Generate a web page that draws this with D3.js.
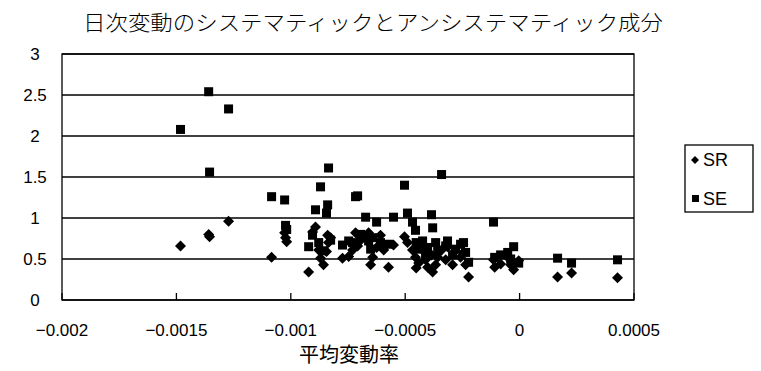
<!DOCTYPE html>
<html>
<head>
<meta charset="utf-8">
<script src="https://cdn.jsdelivr.net/npm/d3@7"></script>
<style>
  body { margin: 0; background: #fff; }
  text { fill: #000; }
</style>
</head>
<body>
<div id="chart"></div>
<script>
var title = "日次変動のシステマティックとアンシステマティック成分";
var xTitle = "平均変動率";
var seriesNames = ["SR", "SE"];

var xTicks = [-0.002, -0.0015, -0.001, -0.0005, 0, 0.0005];
var xTickLabels = ["−0.002", "−0.0015", "−0.001", "−0.0005", "0", "0.0005"];
var yTicks = [0, 0.5, 1, 1.5, 2, 2.5, 3];
var yTickLabels = ["0", "0.5", "1", "1.5", "2", "2.5", "3"];

// average change rate (x) for each observation
var xValues = [
    -0.001482, -0.001359, -0.001355, -0.001272, -0.001084, -0.001027, -0.001023, -0.001018,
    -0.000922, -0.000905, -0.000892, -0.000878, -0.000870, -0.000857, -0.000844, -0.000839,
    -0.000835, -0.000826, -0.000774, -0.000747, -0.000730, -0.000717, -0.000708, -0.000695,
    -0.000673, -0.000660, -0.000651, -0.000642, -0.000625, -0.000608, -0.000594, -0.000573,
    -0.000551, -0.000503, -0.000490, -0.000468, -0.000455, -0.000452, -0.000441, -0.000424,
    -0.000411, -0.000402, -0.000385, -0.000380, -0.000367, -0.000358, -0.000341, -0.000323,
    -0.000315, -0.000293, -0.000280, -0.000258, -0.000245, -0.000236, -0.000223, -0.000114,
    -0.000109, -0.000083, -0.000052, -0.000039, -0.000026, -0.000004, 0.000166, 0.000227,
    0.000428
];
var srValues = [
    0.66, 0.80, 0.77, 0.96, 0.52, 0.82, 0.76, 0.71,
    0.34, 0.83, 0.89, 0.61, 0.51, 0.43, 0.59, 0.79,
    0.70, 0.76, 0.51, 0.53, 0.61, 0.82, 0.66, 0.73,
    0.76, 0.82, 0.43, 0.52, 0.64, 0.79, 0.61, 0.40,
    0.67, 0.77, 0.70, 0.61, 0.52, 0.39, 0.45, 0.61,
    0.49, 0.40, 0.55, 0.34, 0.43, 0.52, 0.61, 0.49,
    0.65, 0.43, 0.60, 0.52, 0.58, 0.43, 0.28, 0.49,
    0.40, 0.44, 0.52, 0.43, 0.37, 0.48, 0.28, 0.33,
    0.27
];
var seValues = [
    2.08, 2.54, 1.56, 2.33, 1.26, 1.22, 0.91, 0.86,
    0.65, 0.79, 1.10, 0.70, 1.38, 0.60, 1.06, 1.16,
    1.61, 0.73, 0.67, 0.72, 0.70, 1.26, 1.27, 0.80,
    1.01, 0.72, 0.62, 0.76, 0.95, 0.70, 0.66, 0.68,
    1.01, 1.40, 1.06, 0.95, 0.85, 0.70, 0.62, 0.72,
    0.55, 0.64, 1.04, 0.88, 0.70, 0.60, 1.53, 0.66,
    0.72, 0.55, 0.62, 0.68, 0.70, 0.58, 0.46, 0.95,
    0.52, 0.55, 0.58, 0.50, 0.65, 0.45, 0.51, 0.45,
    0.49
];

var svg = d3.select("#chart")
    .append("svg")
    .attr("width", 761)
    .attr("height", 371);

var x = d3.scaleLinear().domain([-0.002, 0.0005]).range([62, 634]);
var y = d3.scaleLinear().domain([0, 3]).range([300, 54]);

var cjk = "'Noto Sans CJK JP', sans-serif";
var latin = "'Liberation Sans', Arial, sans-serif";

// title
svg.append("text")
    .attr("x", 373)
    .attr("y", 30)
    .attr("text-anchor", "middle")
    .attr("textLength", 580)
    .attr("lengthAdjust", "spacingAndGlyphs")
    .style("font-family", cjk)
    .style("font-weight", 300)
    .style("font-size", "21px")
    .text(title);

// horizontal gridlines
svg.append("g")
    .selectAll("line")
    .data(yTicks)
    .enter()
    .append("line")
    .attr("x1", x(-0.002))
    .attr("x2", x(0.0005))
    .attr("y1", function(d) { return y(d); })
    .attr("y2", function(d) { return y(d); })
    .attr("stroke", "#000")
    .attr("stroke-width", 1.3);

// plot frame
svg.append("rect")
    .attr("x", x(-0.002))
    .attr("y", y(3))
    .attr("width", x(0.0005) - x(-0.002))
    .attr("height", y(0) - y(3))
    .attr("fill", "none")
    .attr("stroke", "#000")
    .attr("stroke-width", 1.3);

// x tick marks (inside)
svg.append("g")
    .selectAll("line")
    .data(xTicks)
    .enter()
    .append("line")
    .attr("x1", function(d) { return x(d); })
    .attr("x2", function(d) { return x(d); })
    .attr("y1", y(0))
    .attr("y2", y(0) - 7)
    .attr("stroke", "#000")
    .attr("stroke-width", 1.3);

// y tick labels
svg.append("g")
    .selectAll("text")
    .data(yTicks)
    .enter()
    .append("text")
    .attr("x", 35)
    .attr("y", function(d) { return y(d); })
    .attr("dy", "0.36em")
    .attr("text-anchor", "middle")
    .style("font-family", latin)
    .style("font-size", "17px")
    .text(function(d, i) { return yTickLabels[i]; });

// x tick labels
svg.append("g")
    .selectAll("text")
    .data(xTicks)
    .enter()
    .append("text")
    .attr("x", function(d) { return x(d); })
    .attr("y", 336)
    .attr("text-anchor", "middle")
    .style("font-family", latin)
    .style("font-size", "17px")
    .text(function(d, i) { return xTickLabels[i]; });

// x axis title
svg.append("text")
    .attr("x", 349)
    .attr("y", 362)
    .attr("text-anchor", "middle")
    .style("font-family", cjk)
    .style("font-size", "20px")
    .text(xTitle);

function diamondPath(r) {
    return "M0," + (-r) + "L" + r + ",0L0," + r + "L" + (-r) + ",0Z";
}

var points = xValues.map(function(v, i) {
    return { x: v, sr: srValues[i], se: seValues[i] };
});

// SE squares
svg.append("g")
    .selectAll("rect")
    .data(points)
    .enter()
    .append("rect")
    .attr("x", function(d) { return x(d.x) - 4.5; })
    .attr("y", function(d) { return y(d.se) - 4.5; })
    .attr("width", 9)
    .attr("height", 9)
    .attr("fill", "#000");

// SR diamonds
svg.append("g")
    .selectAll("path")
    .data(points)
    .enter()
    .append("path")
    .attr("transform", function(d) { return "translate(" + x(d.x) + "," + y(d.sr) + ")"; })
    .attr("d", diamondPath(5.5))
    .attr("fill", "#000");

// legend
var legend = svg.append("g");
legend.append("rect")
    .attr("x", 685)
    .attr("y", 145)
    .attr("width", 68)
    .attr("height", 67)
    .attr("fill", "none")
    .attr("stroke", "#000")
    .attr("stroke-width", 1.3);

legend.append("path")
    .attr("transform", "translate(695,160)")
    .attr("d", diamondPath(4))
    .attr("fill", "#000");
legend.append("rect")
    .attr("x", 692)
    .attr("y", 195)
    .attr("width", 7)
    .attr("height", 7)
    .attr("fill", "#000");

legend.selectAll("text")
    .data(seriesNames)
    .enter()
    .append("text")
    .attr("x", 703)
    .attr("y", function(d, i) { return 166 + i * 39; })
    .style("font-family", latin)
    .style("font-size", "18px")
    .text(function(d) { return d; });
</script>
</body>
</html>
